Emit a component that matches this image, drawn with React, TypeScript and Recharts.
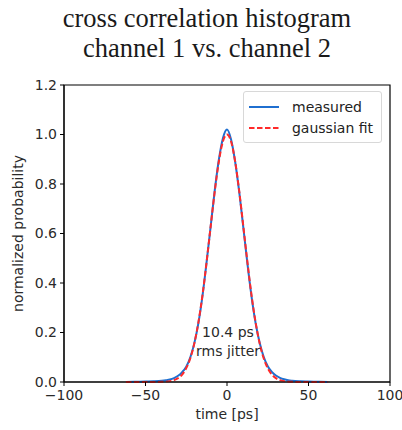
import { LineChart, Line, XAxis, YAxis, ReferenceArea } from "recharts";

const times = [
  -62, -55, -50, -45, -40, -37.5, -35, -32.5, -30, -27.5, -25, -22.5, -20, -17.5, -15, -12.5, -10, -7.5, -5, -2.5, 0,
  2.5, 5, 7.5, 10, 12.5, 15, 17.5, 20, 22.5, 25, 27.5, 30, 32.5, 35, 37.5, 40, 45, 50, 55, 62,
];

const measured = [
  0, 0.001, 0.002, 0.003, 0.005, 0.007, 0.01, 0.016, 0.025, 0.04, 0.062, 0.1, 0.158, 0.24, 0.35, 0.485, 0.63, 0.775,
  0.898, 0.985, 1.02, 0.98, 0.89, 0.768, 0.625, 0.48, 0.348, 0.24, 0.16, 0.102, 0.064, 0.041, 0.026, 0.017, 0.011,
  0.007, 0.005, 0.003, 0.002, 0.001, 0,
];

const gaussianFit = [
  0, 0, 0, 0.0001, 0.0006, 0.0015, 0.0035, 0.0076, 0.0156, 0.03, 0.056, 0.096, 0.157, 0.243, 0.353, 0.486, 0.63, 0.771,
  0.891, 0.972, 1.0, 0.972, 0.891, 0.771, 0.63, 0.486, 0.353, 0.243, 0.157, 0.096, 0.056, 0.03, 0.0156, 0.0076, 0.0035,
  0.0015, 0.0006, 0.0001, 0, 0, 0,
];

const xTicks = [-100, -50, 0, 50, 100];
const yTicks = [0, 0.2, 0.4, 0.6, 0.8, 1.0, 1.2];

const data = times.map((t, i) => ({ t, measured: measured[i], fit: gaussianFit[i] }));

const FONT = "'DejaVu Sans', sans-serif";
const BLUE = "#1f6fd0";
const RED = "#ff2a2a";

const tickStyle = { fontSize: 14, fill: "#2a2a2a", fontFamily: FONT };

function LegendBox() {
  return (
    <div
      style={{
        position: "absolute",
        left: 243,
        top: 91,
        border: "1px solid #d8d8d8",
        borderRadius: 3,
        background: "#fff",
        padding: "4px 8px 4px 4px",
        fontFamily: FONT,
        fontSize: 14,
        color: "#222",
        width: 125,
      }}
    >
      <div style={{ display: "flex", alignItems: "center", height: 21 }}>
        <svg width={32} height={10} style={{ marginRight: 12 }}>
          <line x1={1} y1={5} x2={31} y2={5} stroke={BLUE} strokeWidth={2} />
        </svg>
        measured
      </div>
      <div style={{ display: "flex", alignItems: "center", height: 21 }}>
        <svg width={32} height={10} style={{ marginRight: 12 }}>
          <line x1={1} y1={5} x2={31} y2={5} stroke={RED} strokeWidth={2} strokeDasharray="5.5 2.5" />
        </svg>
        gaussian fit
      </div>
    </div>
  );
}

export default function App() {
  return (
    <div style={{ position: "absolute", left: 0, top: 0, width: 402, height: 430, background: "#fff" }}>
      <div
        style={{
          position: "absolute",
          left: 0,
          top: 3,
          width: 414,
          textAlign: "center",
          fontFamily: "'Liberation Serif', 'Times New Roman', serif",
          fontSize: 26.5,
          lineHeight: "30px",
          color: "#1a1a1a",
        }}
      >
        cross correlation histogram
        <br />
        channel 1 vs. channel 2
      </div>
      <LineChart width={402} height={430} data={data} margin={{ top: 85, right: 12, left: 6, bottom: 0 }}>
        <XAxis
          dataKey="t"
          type="number"
          domain={[-100, 100]}
          ticks={xTicks}
          tickFormatter={(v: number) => String(v).replace("-", "\u2212")}
          tick={tickStyle}
          tickSize={4}
          tickMargin={4}
          height={48}
          stroke="#000"
          allowDataOverflow
          label={{ value: "time [ps]", position: "insideBottom", offset: 11, style: { fontSize: 14, fill: "#2a2a2a", fontFamily: FONT } }}
        />
        <YAxis
          type="number"
          domain={[0, 1.2]}
          ticks={yTicks}
          tickFormatter={(v: number) => v.toFixed(1)}
          tick={tickStyle}
          tickSize={4}
          tickMargin={3}
          width={58}
          stroke="#000"
          label={{
            value: "normalized probability",
            angle: -90,
            position: "insideLeft",
            offset: 12,
            style: { fontSize: 14, fill: "#2a2a2a", fontFamily: FONT, textAnchor: "middle" },
          }}
        />
        <ReferenceArea x1={-100} x2={100} y1={0} y2={1.2} fill="none" stroke="#000" strokeWidth={1.2} ifOverflow="visible" />
        <Line
          type="monotone"
          dataKey="measured"
          stroke={BLUE}
          strokeWidth={2}
          dot={false}
          isAnimationActive={false}
        />
        <Line
          type="monotone"
          dataKey="fit"
          stroke={RED}
          strokeWidth={2}
          strokeDasharray="5.5 2.5"
          dot={false}
          isAnimationActive={false}
        />
      </LineChart>
      <LegendBox />
      <div
        style={{
          position: "absolute",
          left: 178,
          top: 323,
          width: 100,
          textAlign: "center",
          fontFamily: FONT,
          fontSize: 14,
          lineHeight: "19px",
          color: "#2a2a2a",
        }}
      >
        10.4 ps
        <br />
        rms jitter
      </div>
    </div>
  );
}
